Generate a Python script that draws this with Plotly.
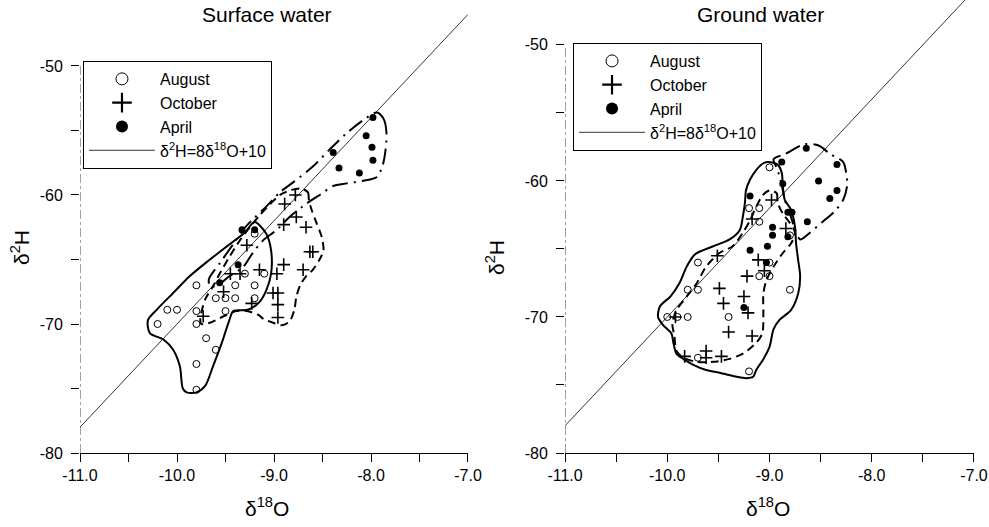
import plotly.graph_objects as go

# ---------------- data ----------------
# Surface water
sw_aug_x = [-10.2, -10.1, -10.0, -9.8, -9.8, -9.8, -9.7, -9.6, -9.8, -9.8, -9.6, -9.5, -9.4, -9.4, -9.5, -9.3, -9.2, -9.2, -9.2, -9.1]
sw_aug_y = [-70.0, -68.9, -68.9, -67.0, -69.0, -70.0, -71.1, -72.0, -73.1, -75.1, -68.0, -68.0, -68.0, -67.0, -69.0, -66.1, -67.0, -68.0, -63.0, -66.1]
sw_oct_x = [-8.78, -8.89, -8.77, -8.90, -8.67, -8.60, -8.63, -8.70, -8.90, -8.97, -9.01, -8.96, -8.96, -8.96, -9.15, -9.28, -9.35, -9.45, -9.52, -9.23, -9.73]
sw_oct_y = [-60.0, -60.7, -61.7, -62.3, -62.5, -64.4, -64.4, -65.8, -65.4, -66.1, -67.6, -67.6, -68.5, -69.5, -65.8, -63.9, -66.1, -66.1, -67.5, -68.4, -69.4]
sw_apr_x = [-7.98, -8.05, -7.99, -7.98, -8.12, -8.33, -8.39, -9.20, -9.33, -9.37, -9.56]
sw_apr_y = [-54.0, -55.4, -56.3, -57.3, -58.3, -57.9, -56.7, -62.7, -62.7, -65.4, -66.8]

# Surface water envelopes
sw_aug_env_x = [-9.20, -9.08, -9.03, -9.03, -9.08, -9.15, -9.27, -9.42, -9.46, -9.54, -9.63, -9.71, -9.80, -9.90, -9.94, -9.97, -10.04, -10.14, -10.28, -10.30, -10.21, -10.04, -9.87, -9.66, -9.49, -9.30, -9.20]
sw_aug_env_y = [-62.1, -63.0, -64.3, -66.1, -67.4, -68.3, -68.9, -69.0, -69.7, -71.5, -73.3, -74.8, -75.3, -75.3, -75.0, -73.3, -72.0, -71.2, -70.7, -69.7, -68.9, -67.6, -66.3, -65.0, -64.0, -62.9, -62.1]
sw_oct_env_x = [-8.72, -8.65, -8.64, -8.61, -8.56, -8.51, -8.49, -8.53, -8.60, -8.67, -8.73, -8.77, -8.79, -8.84, -8.92, -9.01, -9.11, -9.16, -9.28, -9.39, -9.52, -9.66, -9.75, -9.76, -9.71, -9.63, -9.56, -9.46, -9.35, -9.25, -9.15, -9.04, -8.94, -8.82, -8.72]
sw_oct_env_y = [-59.5, -59.8, -60.4, -61.2, -62.2, -63.2, -64.3, -65.0, -65.8, -66.3, -67.0, -67.9, -68.9, -69.8, -70.1, -69.9, -69.6, -69.3, -69.0, -69.0, -69.4, -69.9, -70.0, -69.6, -68.1, -67.1, -66.1, -64.8, -63.5, -62.5, -61.6, -60.7, -60.0, -59.6, -59.5]
sw_apr_env_x = [-7.94, -7.87, -7.84, -7.85, -7.88, -7.94, -8.08, -8.25, -8.39, -8.51, -8.67, -8.84, -8.97, -9.11, -9.22, -9.32, -9.46, -9.58, -9.66, -9.67, -9.56, -9.42, -9.32, -9.22, -9.08, -8.94, -8.80, -8.60, -8.43, -8.25, -8.08, -7.94]
sw_apr_env_y = [-53.6, -54.1, -55.2, -56.5, -57.7, -58.6, -58.9, -59.1, -59.3, -59.9, -60.7, -61.7, -62.7, -63.5, -64.5, -65.6, -66.3, -67.0, -67.1, -66.5, -65.3, -63.8, -62.7, -61.9, -60.9, -59.8, -59.0, -57.8, -56.5, -55.2, -54.2, -53.6]

# Ground water
gw_aug_x = [-10.0, -9.9, -9.8, -9.8, -9.7, -9.7, -9.7, -9.4, -9.2, -9.0, -9.2, -9.1, -9.1, -9.0, -9.1, -9.0, -8.8, -8.8]
gw_aug_y = [-70.0, -70.0, -70.0, -68.0, -68.0, -66.0, -73.0, -70.0, -74.0, -59.0, -62.0, -62.0, -63.0, -66.0, -67.0, -67.0, -68.0, -64.0]
gw_oct_x = [-8.98, -8.84, -9.51, -9.11, -9.22, -9.05, -9.49, -9.45, -9.25, -9.21, -9.40, -9.17, -9.83, -9.62, -9.62, -9.47, -9.92, -9.17]
gw_oct_y = [-61.4, -63.5, -65.5, -65.8, -67.0, -66.6, -67.9, -69.0, -68.5, -69.7, -71.1, -71.4, -72.9, -72.5, -73.0, -72.9, -70.0, -62.8]
gw_apr_x = [-8.64, -8.88, -8.34, -8.52, -8.87, -8.34, -8.41, -9.19, -8.82, -8.78, -8.63, -8.97, -8.97, -8.82, -9.02, -9.19, -9.03, -9.25]
gw_apr_y = [-57.6, -58.6, -58.8, -60.0, -60.2, -60.7, -61.3, -61.1, -62.3, -62.3, -63.0, -63.4, -64.0, -64.1, -64.8, -65.1, -66.0, -69.3]

# Ground water envelopes
gw_aug_env_x = [-9.01, -8.92, -8.88, -8.87, -8.85, -8.79, -8.75, -8.74, -8.72, -8.70, -8.72, -8.79, -8.90, -8.96, -9.00, -9.06, -9.13, -9.16, -9.23, -9.32, -9.49, -9.62, -9.75, -9.84, -9.91, -9.94, -9.96, -10.04, -10.09, -10.07, -9.97, -9.88, -9.81, -9.73, -9.55, -9.39, -9.29, -9.26, -9.24, -9.23, -9.19, -9.13, -9.06, -9.01]
gw_aug_env_y = [-58.6, -58.8, -59.4, -60.4, -61.4, -62.1, -63.4, -64.6, -65.8, -67.0, -68.3, -69.5, -70.2, -70.9, -72.2, -73.1, -73.9, -74.4, -74.5, -74.4, -74.1, -73.9, -73.5, -73.1, -72.7, -71.9, -71.2, -70.6, -70.0, -69.2, -68.5, -67.5, -66.3, -65.4, -64.8, -64.3, -63.6, -62.6, -61.6, -60.7, -59.9, -59.2, -58.7, -58.6]
gw_oct_env_x = [-9.00, -8.93, -8.92, -8.87, -8.80, -8.75, -8.79, -8.87, -8.96, -9.03, -9.06, -9.06, -9.07, -9.13, -9.26, -9.40, -9.55, -9.71, -9.84, -9.91, -9.93, -9.95, -9.91, -9.81, -9.71, -9.62, -9.49, -9.36, -9.26, -9.19, -9.13, -9.06, -9.00]
gw_oct_env_y = [-60.7, -60.9, -61.6, -62.4, -63.1, -63.8, -64.6, -65.3, -66.3, -67.3, -68.3, -69.7, -71.2, -71.9, -72.7, -73.1, -73.3, -73.3, -73.0, -72.5, -71.4, -70.5, -69.5, -68.5, -67.5, -66.3, -65.3, -64.8, -63.8, -62.9, -61.9, -61.0, -60.7]
gw_apr_env_x = [-8.96, -8.84, -8.66, -8.52, -8.41, -8.28, -8.25, -8.24, -8.28, -8.37, -8.48, -8.62, -8.70, -8.75, -8.80, -8.85, -8.88, -8.92, -8.96]
gw_apr_env_y = [-58.4, -58.0, -57.3, -57.4, -58.0, -58.6, -59.4, -60.3, -61.4, -62.3, -63.0, -63.9, -64.3, -63.6, -62.4, -61.4, -60.3, -59.2, -58.4]

# Meteoric water line  d2H = 8 * d18O + 10
gmwl_slope = 8
gmwl_intercept = 10
gmwl_x = [-11.0, -7.0]

# Ticks
x_tickvals = [-11.0, -10.0, -9.0, -8.0, -7.0]
x_ticktext = ["-11.0", "-10.0", "-9.0", "-8.0", "-7.0"]
x_minorvals = [-10.5, -9.5, -8.5, -7.5]
y_tickvals = [-80, -70, -60, -50]
y_ticktext = ["-80", "-70", "-60", "-50"]
y_minorvals = [-75, -65, -55]

panel_titles = ["Surface water", "Ground water"]
legend_names = ["August", "October", "April", "δ<sup>2</sup>H=8δ<sup>18</sup>O+10"]

# ---------------- figure ----------------
FONT = "Liberation Sans, Arial, sans-serif"
fig = go.Figure()

panels = [
    dict(xa="x", ya="y", legend="legend",
         aug=(sw_aug_x, sw_aug_y), oct=(sw_oct_x, sw_oct_y), apr=(sw_apr_x, sw_apr_y),
         env=[(sw_aug_env_x, sw_aug_env_y, "solid"), (sw_oct_env_x, sw_oct_env_y, "8px,5px"),
              (sw_apr_env_x, sw_apr_env_y, "16px,6px,2px,6px")]),
    dict(xa="x2", ya="y2", legend="legend2",
         aug=(gw_aug_x, gw_aug_y), oct=(gw_oct_x, gw_oct_y), apr=(gw_apr_x, gw_apr_y),
         env=[(gw_aug_env_x, gw_aug_env_y, "solid"), (gw_oct_env_x, gw_oct_env_y, "8px,5px"),
              (gw_apr_env_x, gw_apr_env_y, "16px,6px,2px,6px")]),
]

aug_marker = dict(symbol="circle-open", size=7, color="black", line=dict(width=1))
oct_marker = dict(symbol="cross-thin", size=9, color="black", line=dict(width=1.6, color="black"))
apr_marker = dict(symbol="circle", size=7, color="black")
aug_leg = dict(symbol="circle-open", size=12, color="black", line=dict(width=1))
oct_leg = dict(symbol="cross-thin", size=14, color="black", line=dict(width=2.2, color="black"))
apr_leg = dict(symbol="circle", size=12, color="black")

for p in panels:
    xa, ya, lg = p["xa"], p["ya"], p["legend"]
    # envelopes
    for ex, ey, dash in p["env"]:
        fig.add_trace(go.Scatter(x=ex, y=ey, mode="lines", xaxis=xa, yaxis=ya,
                                 line=dict(color="black", width=2, dash=dash, shape="spline", smoothing=0.8),
                                 showlegend=False, hoverinfo="skip"))
    # GMWL
    fig.add_trace(go.Scatter(x=gmwl_x, y=[gmwl_slope * v + gmwl_intercept for v in gmwl_x],
                             mode="lines", xaxis=xa, yaxis=ya,
                             line=dict(color="black", width=0.8),
                             name=legend_names[3], legend=lg, legendrank=4))
    # samples
    fig.add_trace(go.Scatter(x=p["aug"][0], y=p["aug"][1], mode="markers", xaxis=xa, yaxis=ya,
                             marker=aug_marker, showlegend=False))
    fig.add_trace(go.Scatter(x=p["oct"][0], y=p["oct"][1], mode="markers", xaxis=xa, yaxis=ya,
                             marker=oct_marker, showlegend=False))
    fig.add_trace(go.Scatter(x=p["apr"][0], y=p["apr"][1], mode="markers", xaxis=xa, yaxis=ya,
                             marker=apr_marker, showlegend=False))
    # legend-only keys (larger symbols, as in the original key)
    for name, mk, rank in [(legend_names[0], aug_leg, 1), (legend_names[1], oct_leg, 2),
                           (legend_names[2], apr_leg, 3)]:
        fig.add_trace(go.Scatter(x=[None], y=[None], mode="markers", xaxis=xa, yaxis=ya,
                                 marker=mk, name=name, legend=lg, legendrank=rank, hoverinfo="skip"))

axis_common = dict(showgrid=False, zeroline=False, ticks="outside", ticklen=8, tickwidth=1,
                   tickcolor="black", tickfont=dict(family=FONT, size=16, color="black"),
                   automargin=False)
xminor = dict(tickvals=x_minorvals, ticks="outside", ticklen=8, tickwidth=1, tickcolor="black", showgrid=False)
yminor = dict(tickvals=y_minorvals, ticks="outside", ticklen=8, tickwidth=1, tickcolor="black", showgrid=False)
legend_common = dict(xanchor="left", yanchor="top", bgcolor="white", bordercolor="black", borderwidth=1,
                     font=dict(family=FONT, size=16, color="black"), itemwidth=66, tracegroupgap=0,
                     itemclick=False, itemdoubleclick=False)

fig.update_layout(
    width=989, height=527,
    margin=dict(l=0, r=0, t=0, b=0),
    paper_bgcolor="white", plot_bgcolor="white",
    font=dict(family=FONT, size=16, color="black"),
    xaxis=dict(domain=[0.0809, 0.4732], range=[-11, -7], tickvals=x_tickvals, ticktext=x_ticktext,
               minor=xminor, showline=True, linecolor="black", linewidth=1, anchor="y", **axis_common),
    yaxis=dict(domain=[0.1404, 0.9727], range=[-80, -46], tickvals=y_tickvals, ticktext=y_ticktext,
               minor=yminor, showline=False, anchor="x", ticklabelstandoff=5, **axis_common),
    xaxis2=dict(domain=[0.5713, 0.9848], range=[-11, -7], tickvals=x_tickvals, ticktext=x_ticktext,
                minor=xminor, showline=True, linecolor="black", linewidth=1, anchor="y2", **axis_common),
    yaxis2=dict(domain=[0.1404, 1.0], range=[-80, -46.7], tickvals=y_tickvals, ticktext=y_ticktext,
                minor=yminor, showline=False, anchor="x2", ticklabelstandoff=5, **axis_common),
    legend=dict(x=0.0839, y=0.8843, **legend_common),
    legend2=dict(x=0.5794, y=0.9184, **legend_common),
    showlegend=True,
)

# y axis lines (stop at -50 as in the original)
for xa, ya in [("x", "y"), ("x2", "y2")]:
    fig.add_shape(type="line", xref=xa, yref=ya, x0=-11, x1=-11, y0=-80, y1=-50,
                  line=dict(color="#444", width=1, dash="dashdot"), layer="below")

# titles and axis labels
annots = [
    dict(text=panel_titles[0], x=267, y=15, size=21),
    dict(text=panel_titles[1], x=760, y=15, size=21),
    dict(text="δ<sup>18</sup>O", x=267, y=507, size=21),
    dict(text="δ<sup>18</sup>O", x=768, y=507, size=21),
]
for a in annots:
    fig.add_annotation(text=a["text"], x=a["x"] / 989, y=1 - a["y"] / 527, xref="paper", yref="paper",
                       xanchor="center", yanchor="middle", showarrow=False,
                       font=dict(family=FONT, size=a["size"], color="black"))
for xpix, ypix in [(20, 248), (495, 258)]:
    fig.add_annotation(text="δ<sup>2</sup>H", x=xpix / 989, y=1 - ypix / 527, xref="paper", yref="paper",
                       xanchor="center", yanchor="middle", showarrow=False, textangle=-90,
                       font=dict(family=FONT, size=21, color="black"))

fig.write_html("out.html", config={"displayModeBar": False},
               post_script="document.body.style.margin='0';document.body.style.overflow='hidden';")
